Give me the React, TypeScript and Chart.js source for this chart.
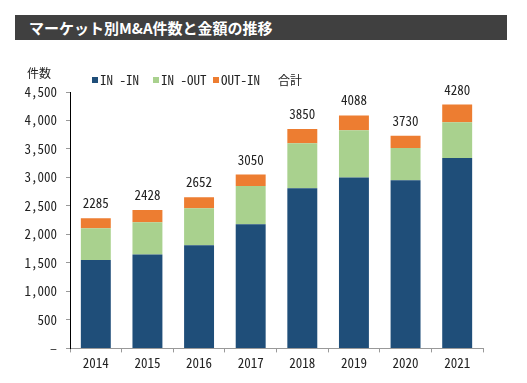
import React, { useEffect, useRef } from "react";
import { Chart, registerables } from "chart.js";

Chart.register(...registerables);

const years = ["2014", "2015", "2016", "2017", "2018", "2019", "2020", "2021"];
const inIn = [1550, 1650, 1810, 2180, 2810, 3000, 2950, 3340];
const inOut = [560, 565, 650, 670, 790, 830, 565, 630];
const outIn = [175, 213, 192, 200, 250, 258, 215, 310];
const totals = [2285, 2428, 2652, 3050, 3850, 4088, 3730, 4280];

const FONT = "'Noto Sans Mono CJK JP', 'Liberation Sans Narrow', 'DejaVu Sans Condensed', sans-serif";
const CJK = "'Noto Sans CJK JP', sans-serif";

const overlayPlugin = {
  id: "overlay",
  afterDraw(chart: any) {
    const ctx = chart.ctx;
    const x = chart.scales.x;
    const y = chart.scales.y;
    ctx.save();
    // totals
    ctx.fillStyle = "#222";
    ctx.font = `13px ${FONT}`;
    ctx.textAlign = "center";
    ctx.textBaseline = "alphabetic";
    const totalDs = chart.data.datasets[3];
    totalDs.data.forEach((v: number, i: number) => {
      ctx.fillText(String(v), x.getPixelForValue(i), y.getPixelForValue(v) - 10);
    });
    // y unit
    ctx.textAlign = "left";
    ctx.textBaseline = "middle";
    ctx.font = `12px ${CJK}`;
    ctx.fillText("件数", 27, 73);
    // legend
    const pos = [92, 153, 213, 274];
    chart.data.datasets.forEach((ds: any, i: number) => {
      const px = pos[i];
      if (i < 3) {
        ctx.fillStyle = ds.backgroundColor;
        ctx.fillRect(px, 77, 6, 6);
        ctx.fillStyle = "#222";
        ctx.font = `13px ${FONT}`;
        ctx.fillText(ds.label, px + 8, 80);
      } else {
        ctx.fillStyle = "#222";
        ctx.font = `12px ${CJK}`;
        ctx.fillText(ds.label, px + 4, 80);
      }
    });
    ctx.restore();
  },
};

export default function App() {
  const ref = useRef<HTMLCanvasElement>(null);
  useEffect(() => {
    const chart = new Chart(ref.current!, {
      type: "bar",
      data: {
        labels: years,
        datasets: [
          { label: "IN -IN", data: inIn, backgroundColor: "#1F4E79" },
          { label: "IN -OUT", data: inOut, backgroundColor: "#A9D18E" },
          { label: "OUT-IN", data: outIn, backgroundColor: "#ED7D31" },
          {
            type: "line" as any,
            label: "合計",
            data: totals,
            showLine: false,
            pointRadius: 0,
            borderColor: "transparent",
            backgroundColor: "transparent",
          } as any,
        ],
      },
      options: {
        animation: false,
        responsive: false,
        maintainAspectRatio: false,
        datasets: { bar: { barPercentage: 0.58, categoryPercentage: 1 } },
        layout: { padding: { top: 92, right: 44, bottom: 9, left: 0 } },
        plugins: { legend: { display: false }, tooltip: { enabled: false } },
        scales: {
          x: {
            stacked: true,
            grid: { display: true, drawOnChartArea: false, drawTicks: true, tickLength: 4, color: "#999", offset: true },
            border: { color: "#999", width: 1 },
            ticks: { color: "#222", font: { family: FONT, size: 13 }, padding: 3 },
          },
          y: {
            stacked: true,
            min: 0,
            max: 4500,
            afterFit: (s: any) => { s.width = 70; },
            grid: { display: true, drawOnChartArea: false, drawTicks: true, tickLength: 4, color: "#999" },
            border: { color: "#000", width: 1 },
            ticks: {
              stepSize: 500,
              color: "#222",
              padding: 9,
              font: { family: FONT, size: 13 },
              callback: (v: any) => (v === 0 ? "–" : Number(v).toLocaleString("en-US")),
            },
          },
        },
      },
      plugins: [overlayPlugin],
    });
    return () => chart.destroy();
  }, []);
  return (
    <div style={{ position: "absolute", left: 0, top: 0, width: 527, height: 383, background: "#fff" }}>
      <canvas ref={ref} width={527} height={383} style={{ position: "absolute", left: 0, top: 0 }} />
      <div
        style={{
          position: "absolute",
          left: 15,
          top: 15,
          width: 492,
          height: 25,
          background: "#404040",
          color: "#fff",
          fontFamily: CJK,
          fontWeight: 700,
          fontSize: 15,
          lineHeight: "25px",
          paddingLeft: 14,
          boxSizing: "border-box",
        }}
      >
        マーケット別M&A件数と金額の推移
      </div>
    </div>
  );
}
